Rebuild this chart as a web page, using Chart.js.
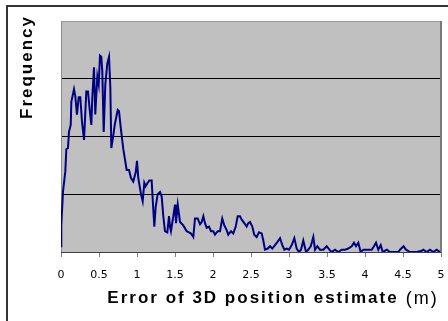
<!DOCTYPE html>
<html><head><meta charset="utf-8">
<script src="https://cdn.jsdelivr.net/npm/chart.js@4/dist/chart.umd.min.js"></script>
<style>
html,body{margin:0;padding:0;background:#fff;width:448px;height:321px;overflow:hidden;}
#frame{position:absolute;left:6px;top:5px;width:600px;height:400px;border-left:2px solid #333;border-top:2px solid #333;}
#wrap{position:absolute;left:0;top:0;width:448px;height:321px;}
</style></head><body>
<div id="frame"></div>
<div id="wrap"><canvas id="c" width="448" height="321"></canvas></div>
<script>
// Error of 3D position estimate (m)
const errorValues = [
  0, 0.004, 0.026, 0.057, 0.07, 0.092, 0.105, 0.128, 0.136, 0.171,
  0.188, 0.21, 0.233, 0.254, 0.276, 0.303, 0.333, 0.355, 0.378, 0.399,
  0.412, 0.434, 0.451, 0.478, 0.496, 0.513, 0.53, 0.543, 0.562, 0.583,
  0.609, 0.632, 0.649, 0.662, 0.684, 0.707, 0.746, 0.763, 0.789, 0.82,
  0.864, 0.895, 0.921, 0.951, 0.983, 1.0, 1.017, 1.053, 1.075, 1.096,
  1.114, 1.141, 1.162, 1.193, 1.214, 1.228, 1.246, 1.272, 1.303, 1.325,
  1.346, 1.368, 1.399, 1.421, 1.434, 1.447, 1.478, 1.5, 1.513, 1.536,
  1.566, 1.609, 1.654, 1.684, 1.711, 1.741, 1.763, 1.799, 1.829, 1.851,
  1.873, 1.895, 1.917, 1.947, 1.974, 2.004, 2.026, 2.062, 2.092, 2.122,
  2.149, 2.18, 2.201, 2.237, 2.267, 2.299, 2.325, 2.355, 2.378, 2.412,
  2.443, 2.464, 2.487, 2.517, 2.543, 2.575, 2.605, 2.641, 2.662, 2.684,
  2.72, 2.75, 2.78, 2.816, 2.851, 2.882, 2.912, 2.938, 2.97, 3.0,
  3.036, 3.07, 3.101, 3.132, 3.158, 3.188, 3.224, 3.254, 3.286, 3.32,
  3.342, 3.372, 3.408, 3.451, 3.496, 3.531, 3.562, 3.605, 3.649, 3.693,
  3.737, 3.78, 3.825, 3.855, 3.882, 3.912, 3.943, 3.978, 4.03, 4.088,
  4.118, 4.145, 4.175, 4.207, 4.233, 4.286, 4.329, 4.395, 4.438, 4.461,
  4.507, 4.539, 4.592, 4.68, 4.746, 4.767, 4.812, 4.855, 4.899, 4.943,
  4.987
];
// Frequency (estimated, arbitrary units)
const frequencyValues = [
  5, 23, 52, 70, 89, 90, 104, 110, 130, 141,
  135, 119, 134, 134, 113, 97, 139, 139, 123, 110,
  134, 160, 119, 152, 145, 170, 169, 157, 104, 145,
  163, 169, 143, 90, 99, 110, 123, 122, 106, 89,
  71, 71, 64, 61, 69, 79, 64, 50, 44, 60,
  57, 60, 62, 62, 37, 22, 39, 50, 52, 48,
  31, 18, 17, 31, 22, 18, 31, 41, 25, 41,
  26, 23, 18, 17, 16, 13, 29, 29, 24, 26,
  31, 25, 21, 22, 18, 18, 15, 18, 18, 29,
  23, 19, 15, 18, 16, 22, 31, 31, 28, 25,
  22, 25, 26, 22, 15, 13, 17, 16, 10, 2,
  3, 5, 3, 6, 9, 12, 6, 2, 3, 2,
  6, 12, 3, 0, 2, 10, 0, 2, 5, 13,
  2, 5, 2, 2, 5, 2, 0, 2, 0, 2,
  2, 3, 5, 8, 5, 8, 0, 2, 2, 2,
  5, 8, 2, 6, 0, 2, 0, 0, 0, 2,
  5, 2, 0, 0, 1, 2, 0, 2, 0, 2,
  0
];
const xTickLabels = ['0','0.5','1','1.5','2','2.5','3','3.5','4','4.5','5'];
const xTitle = 'Error of 3D position estimate';
const xUnit = '(m)';
const yTitle = 'Frequency';

const points = errorValues.map((x, i) => ({x: x, y: frequencyValues[i]}));

const TITLE_FONT = {family: 'Arial, "Liberation Sans", sans-serif', size: 17, weight: 'bold'};

const plotFrame = {
  id: 'plotFrame',
  beforeDraw(chart) {
    const {ctx, chartArea: a} = chart;
    ctx.save();
    ctx.fillStyle = '#C0C0C0';
    ctx.fillRect(a.left, a.top, a.right - a.left, a.bottom - a.top);
    ctx.restore();
  },
  beforeDatasetsDraw(chart) {
    const {ctx, chartArea: a} = chart;
    ctx.save();
    ctx.strokeStyle = '#8a8a8a';
    ctx.lineWidth = 1;
    ctx.beginPath();
    ctx.moveTo(Math.round(a.left) + 0.5, a.bottom);
    ctx.lineTo(Math.round(a.left) + 0.5, a.top);
    ctx.stroke();
    ctx.strokeStyle = '#7a7a7a';
    ctx.lineWidth = 2;
    ctx.beginPath();
    ctx.moveTo(Math.round(a.right), a.top);
    ctx.lineTo(Math.round(a.right), a.bottom);
    ctx.stroke();
    ctx.restore();
  },
  afterDraw(chart) {
    const {ctx, chartArea: a} = chart;
    ctx.save();
    ctx.font = 'bold 17px Arial, "Liberation Sans", sans-serif';
    ctx.letterSpacing = '2px';
    const w = ctx.measureText(xTitle).width;
    const cx = (a.left + a.right) / 2;
    const sx = chart.scales.x;
    const y = sx.bottom - (17 * 1.2 / 2 + 12);
    ctx.font = '18px Arial, "Liberation Sans", sans-serif';
    ctx.letterSpacing = '2px';
    ctx.fillStyle = '#000';
    ctx.textAlign = 'left';
    ctx.textBaseline = 'middle';
    ctx.fillText(xUnit, cx + w / 2 + 9, y);
    ctx.restore();
  }
};

const spacedTitles = {
  id: 'spacedTitles',
  afterLayout(chart) {
    Object.values(chart.scales).forEach(s => {
      if (s._spaced) return;
      const orig = s.drawTitle;
      const isY = s.axis === 'y';
      s.drawTitle = function () {
        const c = this.ctx;
        c.save();
        c.letterSpacing = '2px';
        if (isY) c.translate(0, -6);
        else c.translate(2, 0);
        orig.apply(this, arguments);
        c.restore();
      };
      s._spaced = true;
    });
  }
};

new Chart(document.getElementById('c'), {
  type: 'line',
  data: {
    datasets: [{
      data: points,
      borderColor: '#000080',
      borderWidth: 2,
      pointRadius: 0,
      tension: 0,
      fill: false
    }]
  },
  options: {
    responsive: false,
    animation: false,
    devicePixelRatio: 1,
    layout: {padding: {top: 21, right: 7, left: 0, bottom: 0}},
    plugins: {legend: {display: false}, tooltip: {enabled: false}},
    scales: {
      x: {
        type: 'linear',
        min: 0, max: 5,
        afterFit: s => { s.height = 69; s.paddingRight = 3; s.paddingLeft = 3; },
        border: {display: false},
        grid: {drawOnChartArea: false, drawTicks: true, tickLength: 5, tickColor: '#808080', color: '#808080'},
        ticks: {
          stepSize: 0.5,
          padding: 12,
          maxRotation: 0,
          autoSkip: false,
          color: '#000',
          font: {family: '"DejaVu Sans", Verdana, sans-serif', size: 11},
          callback: v => xTickLabels[Math.round(v / 0.5)]
        },
        title: {display: true, text: xTitle, color: '#000', font: TITLE_FONT, padding: {top: 0, bottom: 12}}
      },
      y: {
        min: 0, max: 200,
        afterFit: s => { s.width = 61; },
        border: {display: false},
        grid: {
          drawTicks: false,
          lineWidth: 1,
          color: c => c.tick.value === 0 ? '#404040' : (c.tick.value === 200 ? '#9a9a9a' : '#000')
        },
        ticks: {display: false, stepSize: 50},
        title: {display: true, text: yTitle, align: 'end', color: '#000', font: TITLE_FONT, padding: {top: 17, bottom: 0}}
      }
    }
  },
  plugins: [plotFrame, spacedTitles]
});
</script>
</body></html>
